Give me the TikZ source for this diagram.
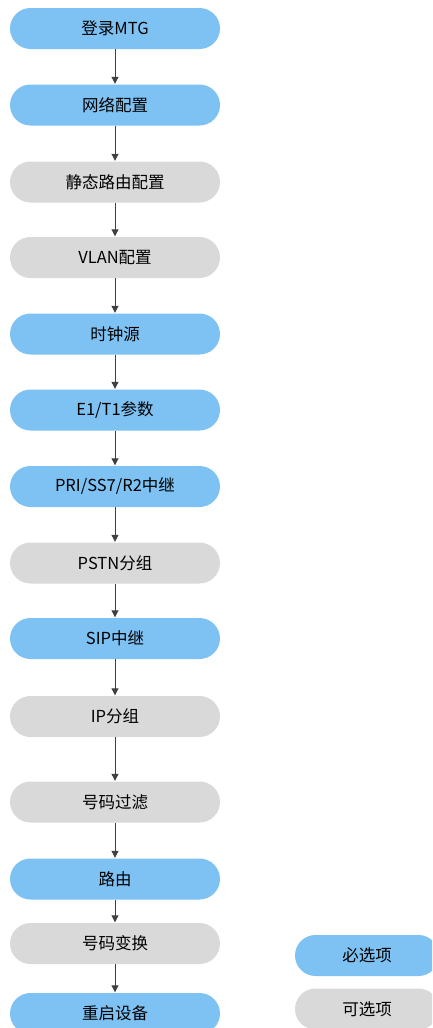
\documentclass[tikz,border=0pt]{standalone}
\usepackage{fontspec}
\setmainfont{Noto Sans CJK SC}
\usetikzlibrary{arrows.meta}
\definecolor{must}{HTML}{7DC2F3}
\definecolor{opt}{HTML}{D9D9D9}
\definecolor{arrowc}{HTML}{404040}
\tikzset{
  stepbox/.style={rectangle, rounded corners=20.5pt, minimum width=210pt, minimum height=41pt, inner sep=0pt, font=\fontsize{16.5}{18}\selectfont, text=black},
  mustbox/.style={stepbox, fill=must},
  optbox/.style={stepbox, fill=opt},
  legbox/.style={minimum width=144pt},
  arr/.style={draw=arrowc, line width=1pt, -{Triangle[length=7pt,width=7pt]}, shorten >=0.5pt}
}
\begin{document}
\begin{tikzpicture}[x=1pt,y=-1pt]
\useasboundingbox (0,0) rectangle (432,1028);
\clip (0,0) rectangle (432,1028);
\node[mustbox] (n1) at (115,28.5) {登录MTG};
\node[mustbox] (n2) at (115,105) {网络配置};
\node[optbox] (n3) at (115,182) {静态路由配置};
\node[optbox] (n4) at (115,257.5) {VLAN配置};
\node[mustbox] (n5) at (115,334) {时钟源};
\node[mustbox] (n6) at (115,410) {E1/T1参数};
\node[mustbox] (n7) at (115,486.5) {PRI/SS7/R2中继};
\node[optbox] (n8) at (115,563) {PSTN分组};
\node[mustbox] (n9) at (115,638.5) {SIP中继};
\node[optbox] (n10) at (115,716.5) {IP分组};
\node[optbox] (n11) at (115,802) {号码过滤};
\node[mustbox] (n12) at (115,879) {路由};
\node[optbox] (n13) at (115,943.5) {号码变换};
\node[mustbox] (n14) at (115,1013.5) {重启设备};
\node[mustbox,legbox] (l1) at (367,955.5) {必选项};
\node[optbox,legbox] (l2) at (367,1009) {可选项};
\foreach \a/\b in {n1/n2,n2/n3,n3/n4,n4/n5,n5/n6,n6/n7,n7/n8,n8/n9,n9/n10,n10/n11,n11/n12,n12/n13,n13/n14}
  \draw[arr] (\a.south) -- (\b.north);
\end{tikzpicture}
\end{document}
